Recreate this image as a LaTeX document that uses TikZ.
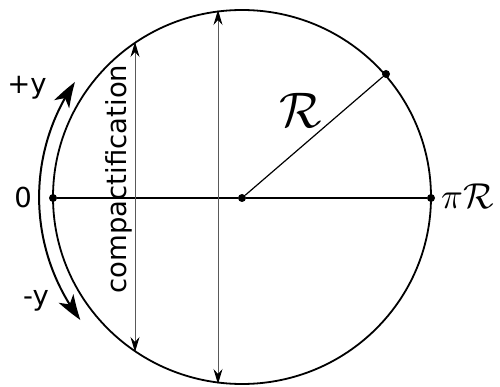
\documentclass[tikz,border=0pt]{standalone}
\usepackage{graphicx}
\usepackage{fontspec}
\setmainfont{DejaVu Sans}
\usetikzlibrary{arrows.meta,bending}
\begin{document}
\begin{tikzpicture}[x=1pt,y=-1pt,
  rim/.style={line width=1.8pt},
  axis/.style={line width=1.2pt},
  chord/.style={line width=1pt, draw=black!65, {Stealth[length=15pt,width=9pt,inset=5pt,black]}-{Stealth[length=15pt,width=9pt,inset=5pt,black]}},
  bigarrow/.style={line width=2pt, {Stealth[length=26pt,width=17pt,inset=7pt,bend]}-{Stealth[length=26pt,width=17pt,inset=7pt,bend]}},
  dot/.style={circle, fill=black, inner sep=0pt, minimum size=8pt},
  lbl/.style={inner sep=0pt, font=\fontsize{27.5}{27.5}\selectfont}
]
\useasboundingbox (0,0) rectangle (500,387);
\coordinate (c) at (242,197);
\draw[rim] (c) ellipse [x radius=189, y radius=187];
% points
\node[dot] (o) at (53,198) {};
\node[dot] (ctr) at (242,198) {};
\node[dot] (pr) at (431,198) {};
\node[dot] (rp) at (386,74) {};
\draw[axis] (o) -- (ctr);
\draw[axis] (ctr) -- (pr);
\draw[axis] (ctr) -- (rp);
% chords
\coordinate (t1) at (135,42);
\coordinate (b1) at (135,352);
\coordinate (t2) at (218,10);
\coordinate (b2) at (218,384);
\draw[chord] (t1) -- (b1);
\draw[chord] (t2) -- (b2);
% arc arrow
\coordinate (as) at (75,82);
\draw[bigarrow] (as) arc[start angle=214.6, end angle=142.8, radius=203];
% labels
\node[lbl] (zero) at (23,197) {0};
\node[lbl] (py) at (27,88) {+y};
\node[lbl] (my) at (36,301) {-y};
\node[lbl, rotate=90, anchor=south] (comp) at (132,179) {compactification};
\node[inner sep=0pt] (R) at (301,110) {\scalebox{5}{$\mathcal{R}$}};
\node[inner sep=0pt, anchor=west] (piR) at (441,196) {\scalebox{3.6}{$\pi\mathcal{R}$}};
\end{tikzpicture}
\end{document}
